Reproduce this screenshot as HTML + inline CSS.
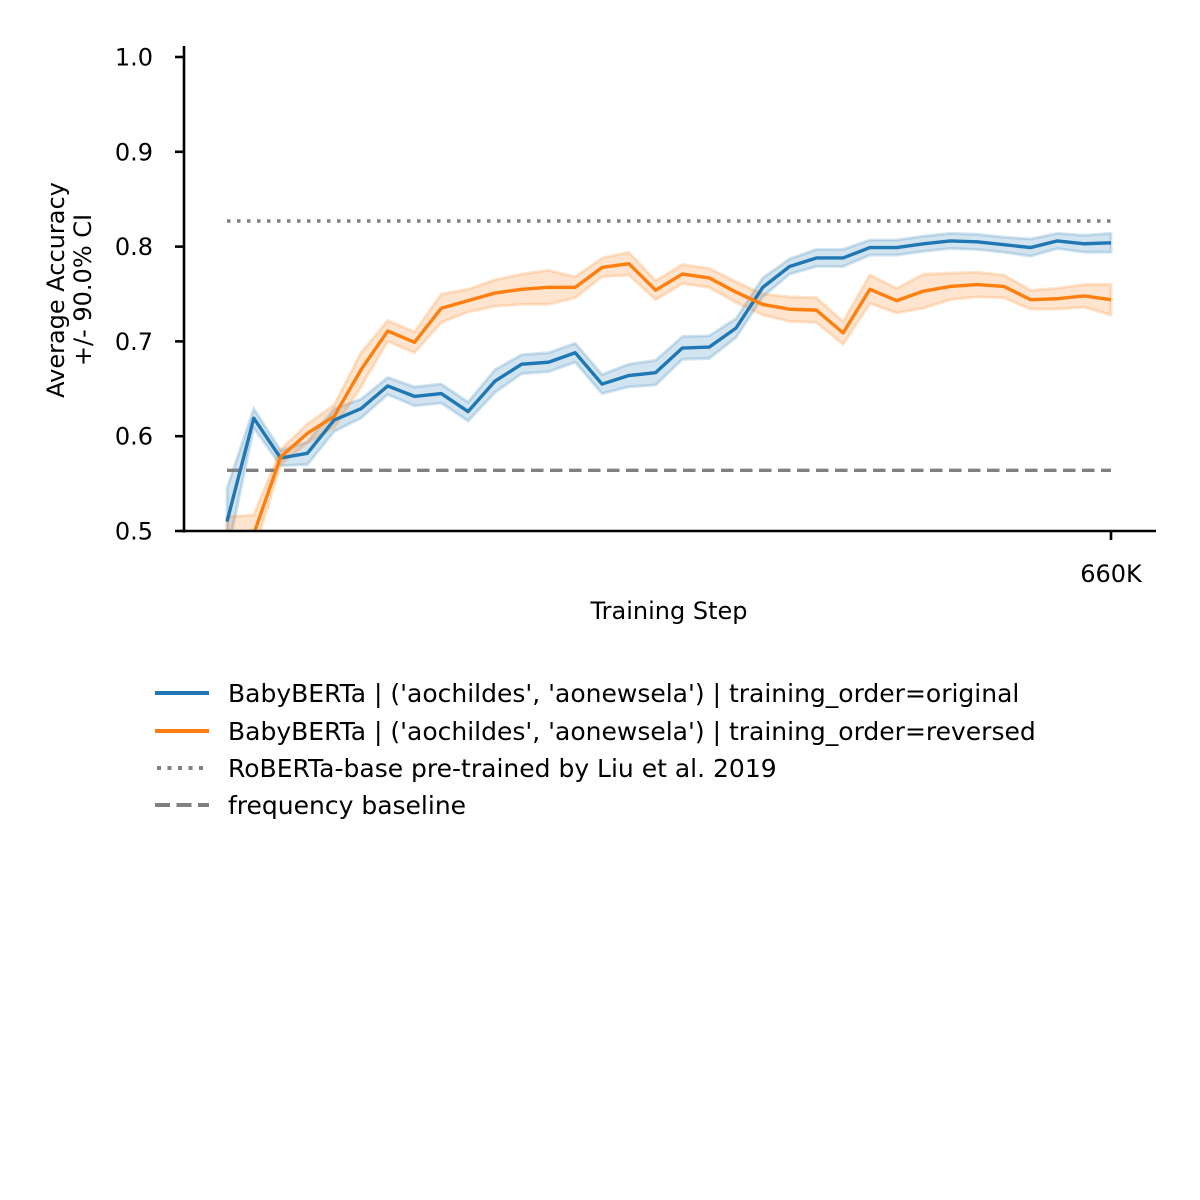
<!DOCTYPE html>
<html><head><meta charset="utf-8"><style>
html,body{margin:0;padding:0;background:#fff;}
svg{display:block;font-family:"DejaVu Sans","Liberation Sans",sans-serif;}
</style></head><body>
<svg id="chart" width="1200" height="1200" viewBox="0 0 1200 1200">
<defs><clipPath id="plotclip"><rect x="184" y="40" width="975" height="491"/></clipPath></defs>
<g id="bands" clip-path="url(#plotclip)"></g>
<g id="refs"></g>
<g id="lines" clip-path="url(#plotclip)"></g>
<g id="axes"></g>
<text x="669" y="619" font-size="24" text-anchor="middle">Training Step</text>
<text transform="translate(64,290) rotate(-90)" font-size="24" text-anchor="middle">Average Accuracy</text>
<text transform="translate(91,290) rotate(-90)" font-size="24" text-anchor="middle">+/- 90.0% CI</text>
<g font-size="25">
 <g><line x1="155" y1="693" x2="209" y2="693" stroke="#1f77b4" stroke-width="4"/><text x="228" y="702">BabyBERTa | ('aochildes', 'aonewsela') | training_order=original</text></g>
 <g><line x1="155" y1="731" x2="209" y2="731" stroke="#ff7f0e" stroke-width="4"/><text x="228" y="740">BabyBERTa | ('aochildes', 'aonewsela') | training_order=reversed</text></g>
 <g><line x1="157" y1="768" x2="209" y2="768" stroke="#808080" stroke-width="4" stroke-dasharray="4,6.5"/><text x="228" y="777">RoBERTa-base pre-trained by Liu et al. 2019</text></g>
 <g><line x1="155" y1="805" x2="209" y2="805" stroke="#808080" stroke-width="4" stroke-dasharray="15,6.5"/><text x="228" y="814">frequency baseline</text></g>
</g>
</svg>
<script>
const steps = [0,20,40,60,80,100,120,140,160,180,200,220,240,260,280,300,320,340,360,380,400,420,440,460,480,500,520,540,560,580,600,620,640,660];
const original = [0.510,0.619,0.577,0.582,0.617,0.629,0.653,0.642,0.645,0.626,0.658,0.676,0.678,0.688,0.655,0.664,0.667,0.693,0.694,0.714,0.757,0.779,0.788,0.788,0.799,0.799,0.803,0.806,0.805,0.802,0.799,0.806,0.803,0.804];
const reversed = [0.485,0.497,0.578,0.603,0.621,0.670,0.711,0.699,0.735,0.743,0.751,0.755,0.757,0.757,0.778,0.782,0.754,0.771,0.767,0.752,0.739,0.734,0.733,0.709,0.755,0.743,0.753,0.758,0.760,0.758,0.744,0.745,0.748,0.744];
const ciOriginal = [0.035,0.010,0.008,0.012,0.012,0.010,0.009,0.010,0.010,0.010,0.012,0.010,0.010,0.010,0.010,0.012,0.013,0.012,0.012,0.010,0.010,0.008,0.009,0.009,0.008,0.008,0.008,0.008,0.008,0.008,0.009,0.008,0.009,0.010];
const ciReversed = [0.030,0.020,0.008,0.010,0.012,0.018,0.011,0.011,0.015,0.012,0.014,0.016,0.018,0.011,0.010,0.012,0.010,0.010,0.010,0.011,0.011,0.013,0.013,0.012,0.015,0.013,0.018,0.014,0.013,0.012,0.010,0.011,0.012,0.016];
const robertaValue = 0.827;
const baselineValue = 0.564;
const yTicks = [0.5,0.6,0.7,0.8,0.9,1.0];
const xTickSteps = [660];
const xTickLabels = ["660K"];

const NS="http://www.w3.org/2000/svg";
const X=s=>227+(s-0)*(1111-227)/660;
const Y=v=>531-(v-0.5)*948;
function mk(tag,attrs,parent){const e=document.createElementNS(NS,tag);for(const k in attrs)e.setAttribute(k,attrs[k]);parent.appendChild(e);return e;}
const bands=document.getElementById('bands'),lines=document.getElementById('lines'),refs=document.getElementById('refs'),axes=document.getElementById('axes');
function band(vals,ci,color,name){
  let up=steps.map((s,i)=>X(s)+','+Y(vals[i]+ci[i]));
  let lo=steps.map((s,i)=>X(s)+','+Y(vals[i]-ci[i])).reverse();
  const p=mk('polygon',{points:up.concat(lo).join(' '),fill:color,'fill-opacity':0.2,stroke:color,'stroke-opacity':0.2,'stroke-width':3},bands);
  
  
}
function line(vals,color,name){
  const p=mk('polyline',{points:steps.map((s,i)=>X(s)+','+Y(vals[i])).join(' '),fill:'none',stroke:color,'stroke-width':3.4,'stroke-linejoin':'round'},lines);
  
  
}
band(original,ciOriginal,'#1f77b4','ci-band-original');
band(reversed,ciReversed,'#ff7f0e','ci-band-reversed');
const r1=mk('line',{x1:X(steps[0]),x2:X(steps[steps.length-1]),y1:Y(robertaValue),y2:Y(robertaValue),stroke:'#808080','stroke-width':3.4,'stroke-dasharray':'3.5,6.5'},refs);


const r2=mk('line',{x1:X(steps[0]),x2:X(steps[steps.length-1]),y1:Y(baselineValue),y2:Y(baselineValue),stroke:'#808080','stroke-width':3.4,'stroke-dasharray':'12.5,6.5'},refs);


line(original,'#1f77b4','line-original');
line(reversed,'#ff7f0e','line-reversed');
const ys=mk('line',{x1:184,x2:184,y1:46,y2:532.5,stroke:'#000','stroke-width':2.6},axes);


const xs=mk('line',{x1:182.7,x2:1156,y1:531,y2:531,stroke:'#000','stroke-width':2.6},axes);


yTicks.forEach(v=>{
  const t=mk('line',{x1:175,x2:184,y1:Y(v),y2:Y(v),stroke:'#000','stroke-width':2.6},axes);
  
  
  const l=mk('text',{x:153,y:Y(v)+8.5,'font-size':24,'text-anchor':'end'},axes);
  l.textContent=v.toFixed(1);
  
  
});
xTickSteps.forEach((s,i)=>{
  const t=mk('line',{x1:X(s),x2:X(s),y1:531,y2:540,stroke:'#000','stroke-width':2.6},axes);
  
  
  const l=mk('text',{x:X(s),y:582,'font-size':24,'text-anchor':'middle'},axes);
  l.textContent=xTickLabels[i];
  
  
});
</script>
</body></html>
